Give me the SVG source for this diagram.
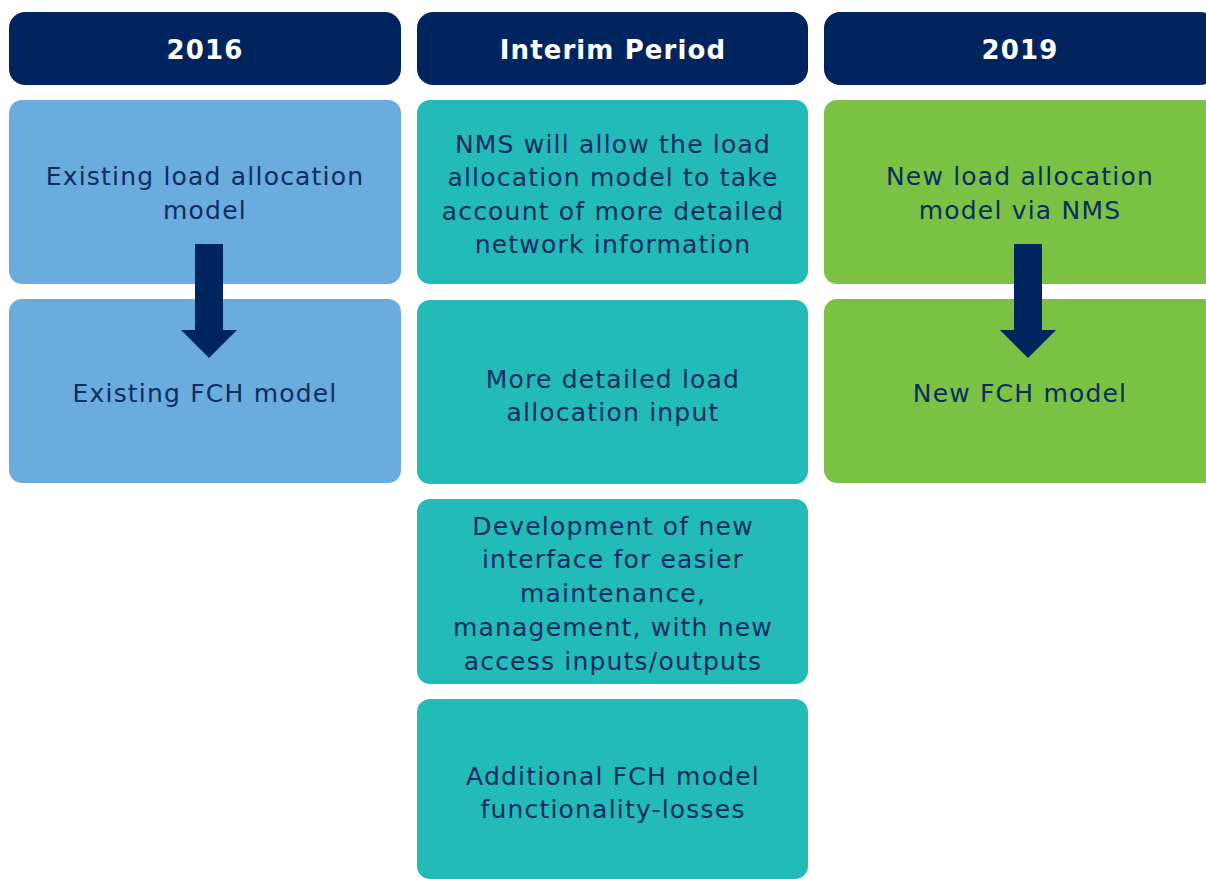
<svg xmlns="http://www.w3.org/2000/svg" width="1206" height="879" viewBox="0 0 1206 879">
  <style>
    .hdr { fill: #00245E; }
    .blue { fill: #6BACDE; }
    .teal { fill: #23BBB8; }
    .green { fill: #7BC144; }
    .htxt { font-family: "DejaVu Sans", Verdana, sans-serif; font-weight: bold; font-size: 26px; letter-spacing: 1.1px; fill: #FFFFFF; text-anchor: middle; }
    .btxt { font-family: "DejaVu Sans", Verdana, sans-serif; font-size: 25px; letter-spacing: 1.2px; fill: #0D2B5F; text-anchor: middle; }
    .arrow { fill: #00245E; }
  </style>

  <!-- Column headers -->
  <g id="hdr-2016">
    <rect class="hdr" x="9" y="12" width="392" height="73" rx="16"/>
    <text class="htxt" x="205" y="59">2016</text>
  </g>
  <g id="hdr-interim">
    <rect class="hdr" x="417" y="12" width="391" height="73" rx="16"/>
    <text class="htxt" x="613" y="59">Interim Period</text>
  </g>
  <g id="hdr-2019">
    <rect class="hdr" x="824" y="12" width="392" height="73" rx="16"/>
    <text class="htxt" x="1020" y="59">2019</text>
  </g>

  <!-- 2016 column -->
  <g id="existing-load-allocation">
    <rect class="blue" x="9" y="100" width="392" height="184" rx="13"/>
    <text class="btxt" x="205" y="185">Existing load allocation</text>
    <text class="btxt" x="205" y="219">model</text>
  </g>
  <g id="existing-fch">
    <rect class="blue" x="9" y="299" width="392" height="184" rx="13"/>
    <text class="btxt" x="205" y="402">Existing FCH model</text>
  </g>

  <!-- Interim column -->
  <g id="nms-detail">
    <rect class="teal" x="417" y="100" width="391" height="184" rx="13"/>
    <text class="btxt" x="613" y="153">NMS will allow the load</text>
    <text class="btxt" x="613" y="186">allocation model to take</text>
    <text class="btxt" x="613" y="220">account of more detailed</text>
    <text class="btxt" x="613" y="253">network information</text>
  </g>
  <g id="detailed-input">
    <rect class="teal" x="417" y="300" width="391" height="184" rx="13"/>
    <text class="btxt" x="613" y="388">More detailed load</text>
    <text class="btxt" x="613" y="421">allocation input</text>
  </g>
  <g id="new-interface">
    <rect class="teal" x="417" y="499" width="391" height="185" rx="13"/>
    <text class="btxt" x="613" y="535">Development of new</text>
    <text class="btxt" x="613" y="568">interface for easier</text>
    <text class="btxt" x="613" y="602">maintenance,</text>
    <text class="btxt" x="613" y="636">management, with new</text>
    <text class="btxt" x="613" y="670">access inputs/outputs</text>
  </g>
  <g id="fch-losses">
    <rect class="teal" x="417" y="699" width="391" height="180" rx="13"/>
    <text class="btxt" x="613" y="785">Additional FCH model</text>
    <text class="btxt" x="613" y="818">functionality-losses</text>
  </g>

  <!-- 2019 column -->
  <g id="new-load-allocation">
    <rect class="green" x="824" y="100" width="392" height="184" rx="13"/>
    <text class="btxt" x="1020" y="185">New load allocation</text>
    <text class="btxt" x="1020" y="219">model via NMS</text>
  </g>
  <g id="new-fch">
    <rect class="green" x="824" y="299" width="392" height="184" rx="13"/>
    <text class="btxt" x="1020" y="402">New FCH model</text>
  </g>

  <!-- Block arrows between stacked boxes -->
  <g id="connectors">
    <polygon class="arrow" points="195,244 223,244 223,330 237,330 209,358 181,330 195,330"/>
    <polygon class="arrow" points="1014,244 1042,244 1042,330 1056,330 1028,358 1000,330 1014,330"/>
  </g>
</svg>
